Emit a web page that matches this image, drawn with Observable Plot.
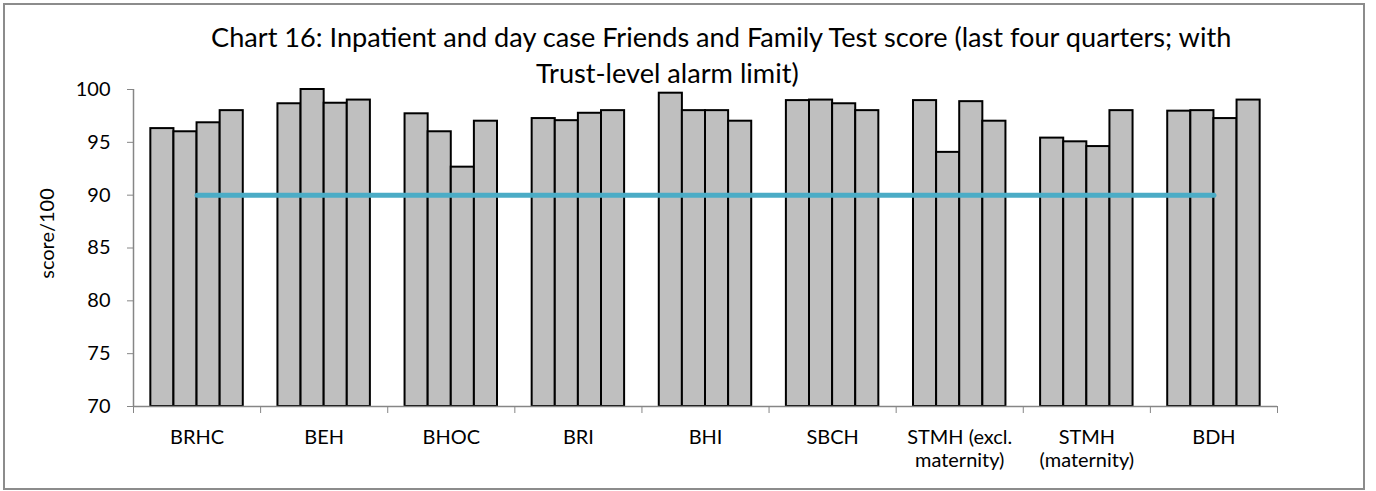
<!DOCTYPE html>
<html>
<head>
<meta charset="utf-8">
<script src="https://cdn.jsdelivr.net/npm/d3@7"></script>
<script src="https://cdn.jsdelivr.net/npm/@observablehq/plot@0.6"></script>
<style>
  body { margin: 0; background: #fff; }
  #wrap { position: relative; width: 1376px; height: 491px; overflow: hidden; background: #fff; }
  #frame { position: absolute; left: 3px; top: 3px; width: 1362px; height: 487px; box-sizing: border-box; border: 2px solid #8c8c8c; }
  .title { position: absolute; white-space: nowrap; line-height: 1; color: #000; }
  #chart { position: absolute; left: 0; top: 50px; }
</style>
</head>
<body>
<div id="wrap">
  <div id="frame"></div>
  <div id="t1" class="title"></div>
  <div id="t2" class="title"></div>
  <div id="chart"></div>
</div>
<script>
// ---- data ----
const titleLines = [
  "Chart 16: Inpatient and day case Friends and Family Test score (last four quarters; with",
  "Trust-level alarm limit)"
];
const yLabel = "score/100";
const categories = ["BRHC", "BEH", "BHOC", "BRI", "BHI", "SBCH", "STMH (excl. maternity)", "STMH (maternity)", "BDH"];
const categoryLabels = ["BRHC", "BEH", "BHOC", "BRI", "BHI", "SBCH", "STMH (excl.\nmaternity)", "STMH\n(maternity)", "BDH"];
const quarters = ["Q1", "Q2", "Q3", "Q4"];
const quarter1 = [96.3, 98.65, 97.7, 97.25, 99.65, 98.95, 98.95, 95.4, 97.95];
const quarter2 = [96.0, 100.0, 96.0, 97.05, 98.0, 99.0, 94.05, 95.05, 98.0];
const quarter3 = [96.85, 98.7, 92.65, 97.75, 98.0, 98.65, 98.85, 94.6, 97.25];
const quarter4 = [98.0, 99.0, 97.0, 98.0, 97.0, 98.0, 97.0, 98.0, 99.0];
const alarmLimit = [90, 90, 90, 90, 90, 90, 90, 90, 90];
const yTicks = [70, 75, 80, 85, 90, 95, 100];

// ---- styling ----
const FONT = "Lato, 'Open Sans', sans-serif";
const axisGray = "#868686";
const gapWidth = 1.5; // Excel-style gap width (150%)

const ctx = document.createElement("canvas").getContext("2d");
function fitSize(text, target) {
  ctx.font = `100px ${FONT}`;
  return 100 * target / ctx.measureText(text).width;
}
const titleSize = fitSize(titleLines[0], 1024);
const axisSize = fitSize("BRHC", 54);

const t1 = document.getElementById("t1");
const t2 = document.getElementById("t2");
[t1, t2].forEach((el, i) => {
  el.textContent = titleLines[i];
  el.style.fontFamily = FONT;
  el.style.fontSize = titleSize + "px";
});
t1.style.left = "211px";
t1.style.top = (47.5 - 0.887 * titleSize) + "px";
t2.style.left = "536px";
t2.style.top = (83.5 - 0.887 * titleSize) + "px";

const series = [quarter1, quarter2, quarter3, quarter4];
const rows = categories.flatMap((c, ci) =>
  quarters.map((q, qi) => ({category: c, quarter: q, ci, qi, value: series[qi][ci]}))
);
const barW = 1 / (quarters.length + gapWidth);
const yMin = yTicks[0], yMax = yTicks[yTicks.length - 1];
const boundaries = d3.range(categories.length + 1);
const centers = d3.range(categories.length).map(i => i + 0.5);

const chart = Plot.plot({
  width: 1376,
  height: 441,
  marginLeft: 133,
  marginRight: 99,
  marginTop: 39,
  marginBottom: 85,
  style: {fontFamily: FONT, fontSize: axisSize + "px", color: "#000", background: "transparent"},
  x: {type: "linear", domain: [0, categories.length], axis: null},
  y: {domain: [yMin, yMax], axis: null},
  marks: [
    Plot.rect(rows, {
      x1: d => d.ci + (gapWidth / 2 + d.qi) * barW,
      x2: d => d.ci + (gapWidth / 2 + d.qi + 1) * barW,
      y1: () => yMin,
      y2: "value",
      fill: "#BFBFBF",
      stroke: "#000",
      strokeWidth: 2
    }),
    Plot.ruleX([0], {stroke: axisGray, strokeWidth: 1.5}),
    Plot.ruleY([yMin], {stroke: axisGray, strokeWidth: 1.5}),
    Plot.axisY({ticks: yTicks, tickSize: 6, tickPadding: 17, stroke: axisGray, fill: "#000", label: null, fontSize: axisSize}),
    Plot.axisX({ticks: boundaries, tickSize: 7, tickFormat: () => "", stroke: axisGray, label: null}),
    Plot.axisX({ticks: centers, tickSize: 0, tickPadding: 21, tickFormat: d => categoryLabels[Math.floor(d)], label: null, fontSize: axisSize, lineHeight: 1.17, fill: "#000"}),
    Plot.lineY(alarmLimit, {x: (d, i) => i + 0.5, y: d => d, stroke: "#4BACC6", strokeWidth: 5, strokeLinecap: "round"}),
    Plot.text([yLabel], {frameAnchor: "left", textAnchor: "middle", lineAnchor: "middle", rotate: -90, dx: -86, dy: -14.5, fontSize: axisSize, fill: "#000"})
  ]
});
document.getElementById("chart").appendChild(chart);
</script>
</body>
</html>
